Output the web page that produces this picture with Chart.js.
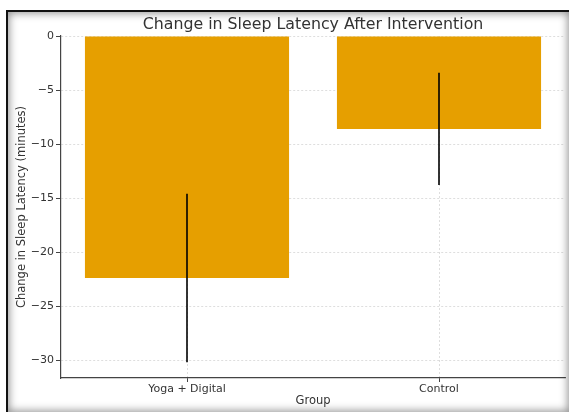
<!DOCTYPE html>
<html>
<head>
<meta charset="utf-8">
<script src="https://cdn.jsdelivr.net/npm/chart.js@4.4.1/dist/chart.umd.min.js"></script>
<style>
  html, body { margin: 0; padding: 0; background: #fff; }
  #wrap { position: relative; width: 569px; height: 412px; overflow: hidden; }
  #myChart { position: absolute; left: 0; top: 0; }
  #frame {
    position: absolute; left: 6px; top: 10px; width: 563px; height: 402px;
    box-sizing: border-box;
    border-top: 2px solid #111; border-left: 2px solid #111;
    box-shadow: inset 0 0 8px 1px rgba(0,0,0,0.45);
    pointer-events: none;
  }
</style>
</head>
<body>
<div id="wrap">
  <canvas id="myChart" width="569" height="412"></canvas>
  <div id="frame"></div>
</div>
<script>
const groups = ['Yoga + Digital', 'Control'];
const meanChange = [-22.4, -8.6];
const errors = [7.8, 5.2];
const yTicks = [0, -5, -10, -15, -20, -25, -30];

const fontFamily = '"DejaVu Sans", sans-serif';
const gridColor = 'rgba(185,185,185,0.6)';
const axisColor = '#444';
const textColor = '#333';

// draws title centred over the plot area and the error bars on top
const extras = {
    id: 'extras',
    afterDraw(chart) {
        const ctx = chart.ctx;
        const area = chart.chartArea;
        const x = chart.scales.x;
        const y = chart.scales.y;

        ctx.save();
        ctx.strokeStyle = '#000';
        ctx.lineWidth = 1.6;
        meanChange.forEach((m, i) => {
            const px = x.getPixelForValue(i);
            ctx.beginPath();
            ctx.moveTo(px, y.getPixelForValue(m + errors[i]));
            ctx.lineTo(px, y.getPixelForValue(m - errors[i]));
            ctx.stroke();
        });

        ctx.fillStyle = textColor;
        ctx.font = '15.8px ' + fontFamily;
        ctx.textAlign = 'center';
        ctx.textBaseline = 'middle';
        ctx.fillText('Change in Sleep Latency After Intervention', (area.left + area.right) / 2, 25);
        ctx.restore();
    }
};

const minus = v => (v < 0 ? '\u2212' + Math.abs(v) : String(v));

const ctx = document.getElementById('myChart').getContext('2d');

const data = {
    labels: groups,
    datasets: [{
        label: 'Change',
        data: meanChange,
        backgroundColor: '#E69F00',
        borderWidth: 0,
        categoryPercentage: 1.0,
        barPercentage: 0.81
    }]
};

const config = {
    type: 'bar',
    data: data,
    plugins: [extras],
    options: {
        responsive: false,
        animation: false,
        layout: { padding: { top: 36, right: 4, left: 0, bottom: 0 } },
        plugins: {
            legend: { display: false },
            tooltip: { enabled: false },
            title: { display: false }
        },
        scales: {
            x: {
                z: 1,
                offset: true,
                grid: {
                    offset: false,
                    color: gridColor,
                    lineWidth: 0.8,
                    tickLength: 4,
                    tickColor: axisColor,
                    tickWidth: 1
                },
                border: { display: true, color: axisColor, width: 1.2, dash: [2, 2] },
                ticks: {
                    color: textColor,
                    font: { family: fontFamily, size: 11 },
                    padding: 1,
                    maxRotation: 0
                },
                title: {
                    display: true,
                    text: 'Group',
                    color: textColor,
                    font: { family: fontFamily, size: 11.5 },
                    padding: { top: 0, bottom: 4 }
                },
                afterFit(scale) { scale.height = 34; }
            },
            y: {
                z: 1,
                min: -31.66,
                max: 0,
                afterBuildTicks(scale) {
                    scale.ticks = yTicks.map(v => ({ value: v }));
                },
                grid: {
                    color: gridColor,
                    lineWidth: 0.8,
                    tickLength: 5,
                    tickColor: axisColor,
                    tickWidth: 1
                },
                border: { display: true, color: axisColor, width: 1.2, dash: [2, 2] },
                ticks: {
                    color: textColor,
                    font: { family: fontFamily, size: 11 },
                    padding: 2,
                    callback: v => minus(v)
                },
                title: {
                    display: true,
                    text: 'Change in Sleep Latency (minutes)',
                    color: textColor,
                    font: { family: fontFamily, size: 11.5 },
                    padding: { top: 15, bottom: 0 }
                },
                afterFit(scale) { scale.width = 61; }
            }
        }
    }
};

new Chart(ctx, config);
</script>
</body>
</html>
